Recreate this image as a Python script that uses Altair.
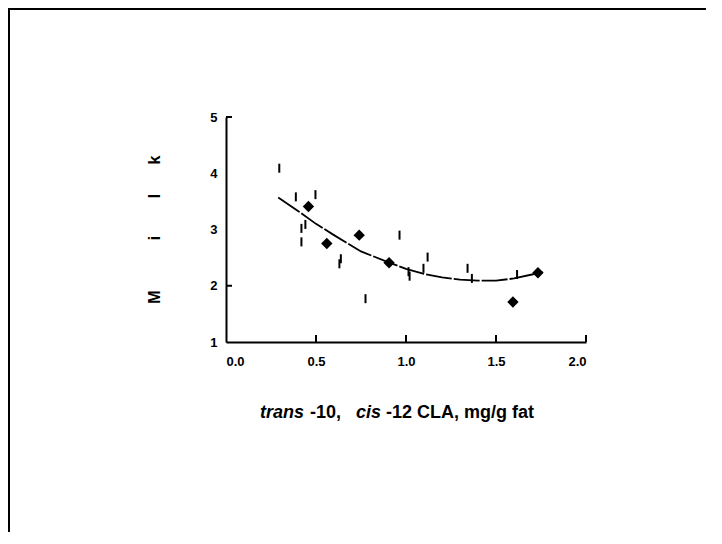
import altair as alt
import pandas as pd

# Treatment means (diamonds)
mean_x = [0.458, 0.56, 0.74, 0.906, 1.594, 1.733]
mean_y = [3.41, 2.75, 2.90, 2.41, 1.71, 2.23]

# Individual observations (vertical bar markers)
obs_x = [0.296, 0.388, 0.497, 0.419, 0.419, 0.441, 0.638, 0.63, 0.775, 0.964,
         1.12, 1.097, 1.014, 1.02, 1.342, 1.366, 1.617]
obs_y = [4.09, 3.58, 3.62, 3.02, 2.78, 3.09, 2.48, 2.39, 1.77, 2.90,
         2.51, 2.31, 2.25, 2.17, 2.31, 2.13, 2.20]

# Fitted curve
fit_x = [0.29, 0.40, 0.50, 0.60, 0.75, 0.90, 1.00, 1.10, 1.20, 1.30, 1.40, 1.50, 1.60, 1.70, 1.76]
fit_y = [3.57, 3.33, 3.10, 2.90, 2.61, 2.42, 2.30, 2.21, 2.15, 2.11, 2.09, 2.09, 2.13, 2.20, 2.24]

x_ticks = [0.0, 0.5, 1.0, 1.5, 2.0]
x_inner_ticks = [0.5, 1.0, 1.5, 2.0]
y_ticks = [1, 2, 3, 4, 5]
y_inner_ticks = [2, 5]

W, H = 360, 225
PAD_L, PAD_T = 218, 109
FONT = "Liberation Sans"

xs = alt.Scale(domain=[0, 2], nice=False)
ys = alt.Scale(domain=[1, 5], nice=False)

means = pd.DataFrame({"x": mean_x, "y": mean_y})
obs = pd.DataFrame({"x": obs_x, "y": obs_y})
fit = pd.DataFrame({"x": fit_x, "y": fit_y})

x_axis = alt.Axis(values=x_ticks, format=".1f", tickSize=0, grid=False,
                  domainColor="black", domainWidth=2, labelFont=FONT,
                  labelFontSize=13, labelFontWeight="bold", labelColor="black",
                  labelPadding=13, title=None)
y_axis = alt.Axis(values=y_ticks, format="d", tickSize=0, grid=False,
                  domainColor="black", domainWidth=2, labelFont=FONT,
                  labelFontSize=13, labelFontWeight="bold", labelColor="black",
                  labelPadding=9, title=None)

line = alt.Chart(fit).mark_line(color="black", strokeWidth=1.8, strokeDash=[26, 2]).encode(
    x=alt.X("x:Q", scale=xs, axis=x_axis),
    y=alt.Y("y:Q", scale=ys, axis=y_axis),
)
obs_layer = alt.Chart(obs).mark_tick(orient="vertical", size=9, thickness=2,
                                     color="black", opacity=1).encode(
    x=alt.X("x:Q", scale=xs), y=alt.Y("y:Q", scale=ys)
)
mean_layer = alt.Chart(means).mark_point(shape="diamond", filled=True, size=130,
                                          color="black", opacity=1).encode(
    x=alt.X("x:Q", scale=xs), y=alt.Y("y:Q", scale=ys)
)

xt = alt.Chart(pd.DataFrame({"t": x_inner_ticks})).mark_rule(color="black", strokeWidth=2).encode(
    x=alt.X("t:Q", scale=xs), y=alt.value(H), y2=alt.value(H - 7)
)
yt = alt.Chart(pd.DataFrame({"t": y_inner_ticks})).mark_rule(color="black", strokeWidth=2).encode(
    y=alt.Y("t:Q", scale=ys), x=alt.value(0), x2=alt.value(6)
)

# x title pieces (mixed italic)
title_parts = [("trans", "italic", 34), ("-10,", "normal", 84),
               ("cis", "italic", 130), ("-12 CLA, mg/g fat", "normal", 160)]
texts = []
for txt, style, px in title_parts:
    texts.append(
        alt.Chart(pd.DataFrame({"t": [txt]})).mark_text(
            font=FONT, fontSize=18, fontWeight="bold", fontStyle=style,
            align="left", baseline="middle", color="black"
        ).encode(text="t:N", x=alt.value(px), y=alt.value(296))
    )

# y title letters, spaced out
y_letters = [("M", 180), ("i", 121), ("l", 79), ("k", 43)]
for ch, py in y_letters:
    texts.append(
        alt.Chart(pd.DataFrame({"t": [ch]})).mark_text(
            font=FONT, fontSize=16, fontWeight="bold", angle=270,
            align="center", baseline="middle", color="black"
        ).encode(text="t:N", x=alt.value(-71), y=alt.value(py))
    )

# Outer frame (top and left edges visible)
frame_left = alt.Chart(pd.DataFrame({"a": [0]})).mark_rule(color="black", strokeWidth=2).encode(
    x=alt.value(1 - PAD_L), y=alt.value(-PAD_T), y2=alt.value(H + 200)
)
frame_top = alt.Chart(pd.DataFrame({"a": [0]})).mark_rule(color="black", strokeWidth=2).encode(
    x=alt.value(-PAD_L), x2=alt.value(W + 130), y=alt.value(1 - PAD_T)
)

chart = alt.layer(line, obs_layer, mean_layer, xt, yt, frame_left, frame_top, *texts).properties(
    width=W, height=H,
    background="white",
    autosize=alt.AutoSizeParams(type="none"),
    padding={"left": PAD_L, "top": PAD_T, "right": 120, "bottom": 190},
).configure_view(stroke=None)

chart.save("out.html", embed_options={"renderer": "svg", "actions": False})
